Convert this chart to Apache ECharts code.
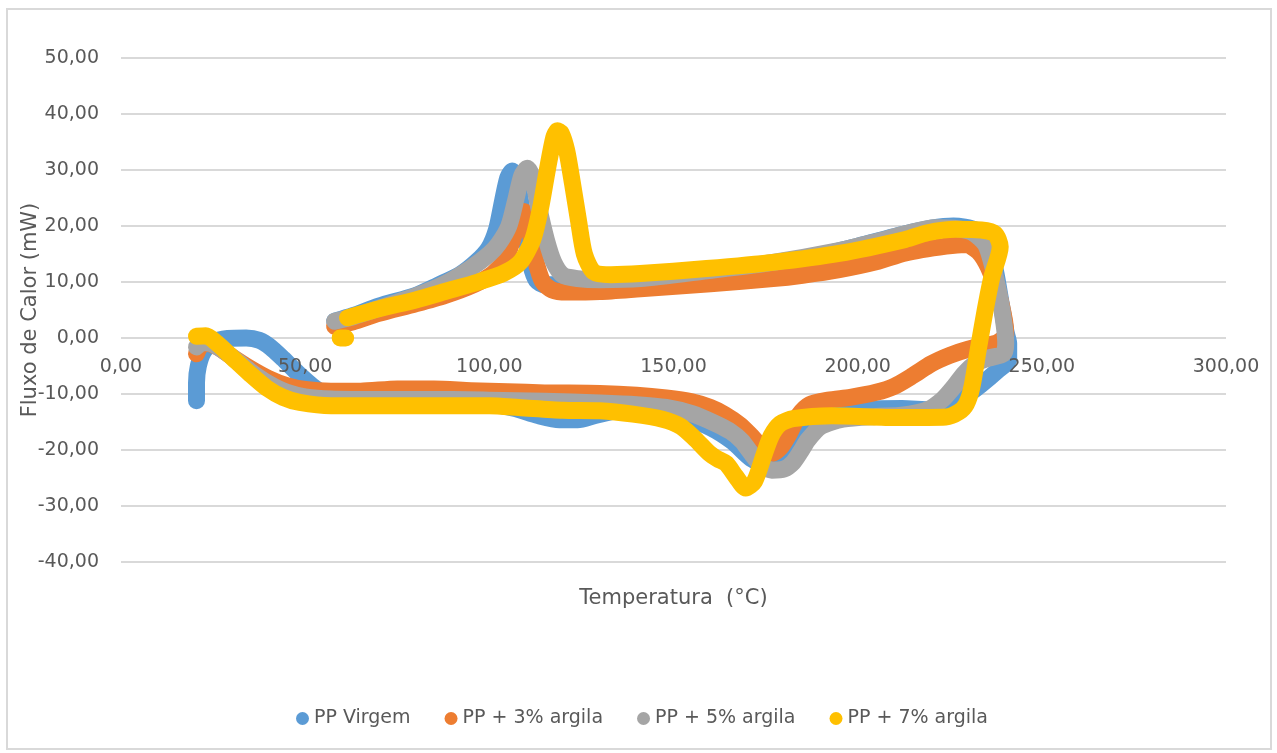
<!DOCTYPE html>
<html>
<head>
<meta charset="utf-8">
<script src="https://cdn.jsdelivr.net/npm/echarts@6/dist/echarts.min.js"></script>
<style>
html,body{margin:0;padding:0;background:#fff;}
#c{width:1277px;height:753px;}
</style>
</head>
<body>
<div id="c"></div>
<script>
var seriesNames = ['PP Virgem', 'PP + 3% argila', 'PP + 5% argila', 'PP + 7% argila'];
var xTitle = 'Temperatura  (°C)';
var yTitle = 'Fluxo de Calor (mW)';

var ppVirgem = [
[20.5,-11.2],[20.5,-8],[21,-5],[22.5,-2.3],[25,-0.8],[29,-0.1],[34,0],[37.5,-0.4],[40.5,-1.6],[44,-3.7],[48,-6.3],[52,-8.6],[56,-10.3],[62,-11.2],[75,-11.5],[90,-11.6],[100,-11.8],[107,-12.6],[113,-13.8],[119,-14.6],[124,-14.6],[129,-13.8],[135,-13],[145,-13.3],[153,-14.3],[160,-16],[166,-18.5],[171,-21.5],[175,-22.5],[179,-21.5],[183,-18],[187,-14.5],[192,-13.2],[200,-12.8],[212,-12.6],[220,-12.8],[225,-12],[229,-10.5],[233.5,-8.3],[238,-5.8],[241,-3.8],[241,-1],[240.3,1],[239,6],[237.4,12],[235.3,16.8],[232,19.3],[226,20],[220,19.6],[213,18.6],[200,16.4],[190,14.8],[177,13.2],[160,11.8],[140,10.6],[128,10],[120,9.6],[115,9.5],[112.8,10.3],[111.3,13],[110,18],[108.7,23.5],[107.4,28.3],[106.2,29.8],[105,28.6],[103.6,24.5],[102,19.5],[99.8,16],[96.5,13.6],[92,11.3],[86,9.4],[80,7.6],[70,5.7],[63,4],[58,3]
];
var pp3 = [
[20.5,-2.8],[21.5,-1.5],[23.5,-1],[26.5,-1.7],[30,-3.3],[35,-5.4],[40,-7.2],[45,-8.5],[50,-9.2],[57,-9.5],[65,-9.5],[75,-9.1],[85,-9.1],[95,-9.4],[105,-9.6],[115,-9.8],[130,-9.9],[140,-10.2],[148,-10.7],[155,-11.4],[160,-12.4],[164,-13.7],[168,-15.5],[171,-17.4],[174,-19.5],[176.7,-20.6],[179,-19.6],[181.5,-17],[184,-13.8],[187,-11.9],[192,-11.1],[198,-10.6],[205,-9.7],[210,-8.6],[215,-6.7],[220,-4.6],[225,-3.1],[230,-2],[235,-1.3],[238,-0.8],[240.2,0.5],[239.9,3],[238.2,7.9],[235.5,12.6],[232.8,15.4],[229.3,16.7],[224,16.4],[213,15.2],[205,13.6],[195,12.2],[185,11.2],[177,10.6],[160,9.7],[141,8.8],[130,8.3],[121,8.2],[117,8.6],[114.5,10],[112.5,14],[110.8,19.5],[109.3,22.6],[108,21.5],[106.3,17.5],[104.3,14],[101,11.5],[96,9.6],[88,7.6],[80,6.1],[70,4.4],[63,2.9],[58,2.1]
];
var pp5 = [
[20.5,-1.6],[22,-0.8],[24.5,-1],[27,-1.9],[30,-3.3],[35,-5.9],[40,-8.1],[45,-9.7],[50,-10.5],[57,-10.9],[70,-11],[90,-11],[100,-11.1],[115,-11.3],[130,-11.6],[140,-11.9],[148,-12.4],[155,-13.5],[161.5,-15.3],[165.5,-16.7],[168.6,-18.4],[171,-20.5],[173.5,-22.5],[176.7,-23.6],[180,-23.4],[182.5,-22.2],[184.5,-20.3],[186.5,-18.2],[190,-15.8],[196,-14.5],[205,-14],[212,-13.8],[219,-12.8],[223,-11],[226,-8.8],[229,-6.3],[232,-4.5],[235.5,-3.6],[239.6,-2.8],[240.2,-1],[239.2,4.9],[237.4,10.8],[234.8,16.6],[231,18.9],[226,19.6],[221,19.7],[213,18.6],[205,17.2],[195,15.6],[177,13.5],[159,12],[141,10.6],[130,10.4],[124,10.6],[120,11.2],[117.5,13.5],[115.5,17.5],[113.5,23],[111.8,28.5],[110.3,30.3],[108.8,29],[107.3,25],[105.3,20],[102.5,16.8],[100,15],[95,12.5],[88,9.7],[80,7.5],[70,5.3],[63,3.8],[58,3]
];
var pp7 = [
[20.5,0.3],[23,0.4],[26,-0.9],[30.4,-3.6],[35,-6.4],[39.5,-8.9],[44,-10.6],[48.5,-11.5],[57,-12.1],[70,-12.1],[90,-12.1],[100,-12.1],[108,-12.4],[120,-12.9],[130,-13],[139,-13.6],[147,-14.5],[152,-15.8],[156,-18.1],[159.6,-20.5],[162,-21.6],[164.3,-22.4],[167,-24.8],[169.6,-26.8],[172,-25.6],[174.5,-21],[176.5,-17.5],[179,-15.3],[182.5,-14.4],[193,-13.9],[211,-14.2],[224,-14.1],[227.5,-13.2],[229.5,-11.8],[231,-8.8],[232.7,-2.2],[234.6,4.9],[236.4,10.8],[238.7,16.3],[237.3,18.6],[233.6,19.3],[226.6,19.4],[219,18.8],[213,17.6],[195,15.1],[177,13.5],[159,12.4],[141,11.5],[133,11.3],[128.3,11.8],[125.8,15],[124.2,21],[122.6,27.5],[121,33.5],[119.5,36.6],[118.5,37],[117.5,35.8],[115.8,30.2],[113.9,23.2],[111.8,17.6],[108.5,13.6],[104,11.6],[97,10],[88,8.3],[80,6.8],[70,5.2],[61.5,3.6],[null,null],[59.5,0],[61,0]
];
var seriesData = [ppVirgem, pp3, pp5, pp7];
var colors = ['#5b9bd5', '#ed7d31', '#a5a5a5', '#ffc000'];

var xMin = 0, xMax = 300, xStep = 50;
var yMin = -40, yMax = 50, yStep = 10;

function fmt(v) { return v.toFixed(2).replace('.', ','); }

var FONT = 'DejaVu Sans';
var TXT = '#595959';
var GRID_TOP = 58, GRID_BOTTOM = 191, H = 753;
var plotH = H - GRID_TOP - GRID_BOTTOM;
var zeroOffset = -plotH * (0 - yMin) / (yMax - yMin);

var chart = echarts.init(document.getElementById('c'), null, {renderer: 'canvas'});
chart.setOption({
  animation: false,
  backgroundColor: '#ffffff',
  color: colors,
  textStyle: {fontFamily: FONT},
  graphic: [{
    type: 'rect', shape: {x: 7, y: 9, width: 1264, height: 740},
    style: {fill: 'none', stroke: '#d9d9d9', lineWidth: 2}, z: -10, silent: true
  }],
  grid: {left: 121, right: 51, top: GRID_TOP, bottom: GRID_BOTTOM, containLabel: false, outerBoundsMode: 'none'},
  legend: {
    data: seriesNames,
    bottom: 20,
    left: 291,
    icon: 'circle',
    itemWidth: 13, itemHeight: 13, itemGap: 34,
    textStyle: {fontFamily: FONT, fontSize: 19, color: TXT}
  },
  xAxis: {
    type: 'value', min: xMin, max: xMax, interval: xStep,
    position: 'bottom', offset: zeroOffset, z: 10,
    name: xTitle, nameLocation: 'middle', nameGap: 250,
    nameTextStyle: {fontFamily: FONT, fontSize: 21, color: TXT},
    axisLine: {show: false, onZero: false},
    axisTick: {show: false},
    splitLine: {show: false},
    axisLabel: {formatter: fmt, fontFamily: FONT, fontSize: 19, color: TXT, margin: 20}
  },
  yAxis: {
    type: 'value', min: yMin, max: yMax, interval: yStep,
    name: yTitle, nameLocation: 'middle', nameGap: 80, nameMoveOverlap: false,
    nameTextStyle: {fontFamily: FONT, fontSize: 21, color: TXT},
    axisLine: {show: false},
    axisTick: {show: false},
    splitLine: {show: true, lineStyle: {color: '#d9d9d9', width: 2}},
    axisLabel: {formatter: fmt, fontFamily: FONT, fontSize: 19, color: TXT, margin: 22}
  },
  series: seriesNames.map(function (n, i) {
    return {
      name: n, type: 'line', data: seriesData[i],
      showSymbol: false, symbol: 'circle', symbolSize: 13,
      smooth: 0.25, connectNulls: false,
      lineStyle: {width: 17, color: colors[i], cap: 'round', join: 'round'},
      itemStyle: {color: colors[i]},
      z: 2 + i
    };
  })
});
</script>
</body>
</html>
